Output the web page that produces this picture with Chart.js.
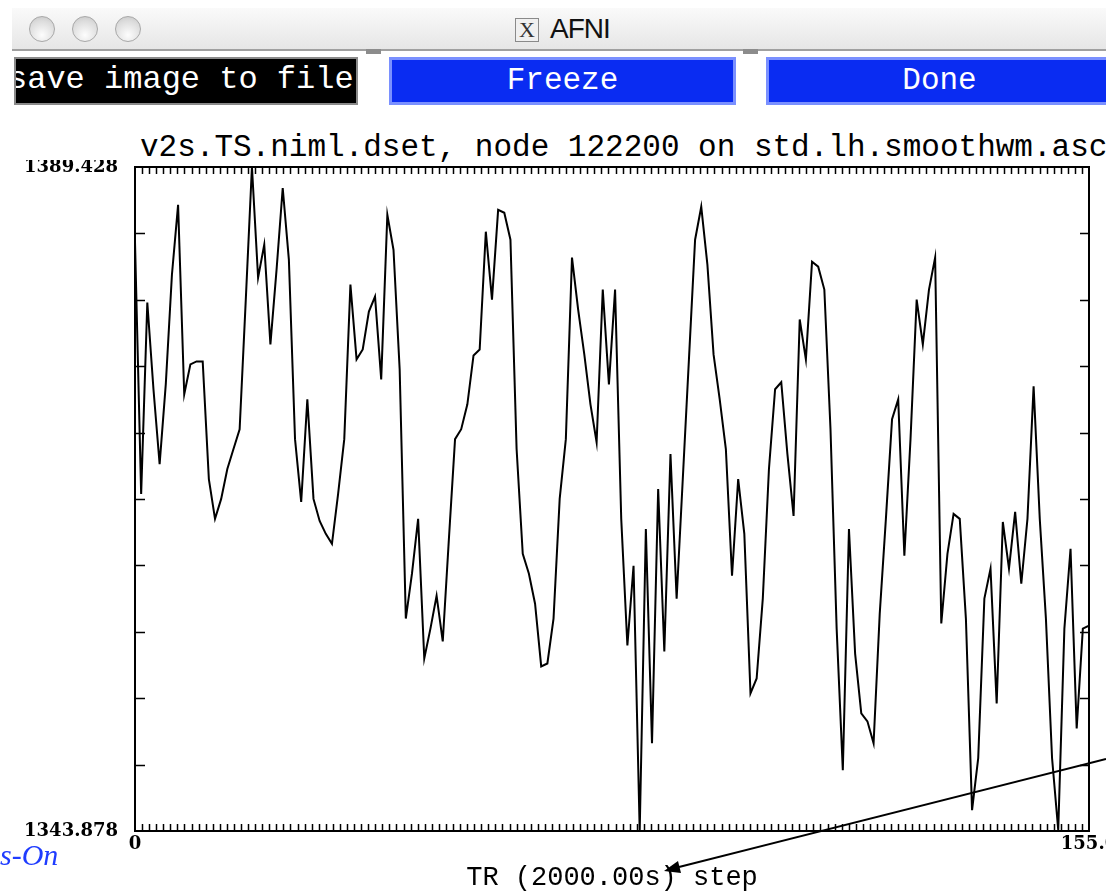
<!DOCTYPE html>
<html>
<head>
<meta charset="utf-8">
<title>AFNI</title>
<script src="https://cdn.jsdelivr.net/npm/chart.js@4.4.1/dist/chart.umd.min.js"></script>
<style>
    html, body { margin: 0; padding: 0; background: #fff; }
    body { position: relative; width: 1106px; height: 896px; overflow: hidden; }

    /* window chrome */
    .titlebar { position: absolute; left: 12px; top: 8px; width: 1094px; height: 41px;
        background: linear-gradient(#fafafa, #e6e6e6); border-bottom: 2px solid #a0a0a0; }
    .light { position: absolute; top: 8px; width: 26px; height: 26px; border-radius: 50%;
        box-sizing: border-box; border: 1px solid #a8a8a8;
        background: radial-gradient(circle at 50% 75%, #fdfdfd, #dcdcdc 65%, #c2c2c2); }
    .xicon { position: absolute; left: 503px; top: 10px; width: 24px; height: 24px;
        box-sizing: border-box; border: 1px solid #8a8a8a; background: #f0f0f0;
        font: 22px "Liberation Serif", serif; line-height: 22px; text-align: center; color: #333; }
    .wintitle { position: absolute; left: 538px; top: 5px; font: 28px "Liberation Sans", sans-serif;
        color: #111; letter-spacing: -1px; }
    .notch { position: absolute; top: 49px; width: 15px; height: 5px; background: #8c8c8c; }

    .btn { position: absolute; top: 57px; height: 48px; box-sizing: border-box; overflow: hidden;
        color: #fff; font: 31px "Liberation Mono", monospace; line-height: 42px; white-space: nowrap; }
    .btn.black { left: 14px; width: 344px; background: #000; border: 2px solid #8a8a8a;
        font-size: 32px; text-indent: -8px; }
    .btn.blue { background: #0a2cf2; border: 3px solid #7a90ff; text-align: center; }

    .plot-title { position: absolute; left: 140px; top: 132px; font: 31px "Liberation Mono", monospace;
        line-height: 32px; color: #000; white-space: nowrap; }
    .chart-box { position: absolute; left: 0; top: 160px; width: 1106px; height: 736px; }
    .side-note { position: absolute; left: 0; top: 838px; font: italic 30px "Liberation Serif", serif;
        color: #1f3cff; }
    svg.arrow { position: absolute; left: 0; top: 0; pointer-events: none; }
</style>
</head>
<body>

<div class="titlebar">
    <div class="light" style="left:17px"></div>
    <div class="light" style="left:60px"></div>
    <div class="light" style="left:103px"></div>
    <div class="xicon">X</div>
    <div class="wintitle">AFNI</div>
</div>
<div class="notch" style="left:366px"></div>
<div class="notch" style="left:743px"></div>

<div class="btn black">save image to file</div>
<div class="btn blue" style="left:389px; width:347px;">Freeze</div>
<div class="btn blue" style="left:766px; width:347px;">Done</div>

<div class="plot-title">v2s.TS.niml.dset, node 122200 on std.lh.smoothwm.asc</div>

<div class="chart-box">
    <canvas id="tsChart" width="1106" height="736"></canvas>
</div>

<div class="side-note">s-On</div>

<svg class="arrow" width="1106" height="896">
    <line x1="1106" y1="759" x2="679" y2="867" stroke="#000" stroke-width="2"/>
    <polygon points="664,871 681,873 678,861" fill="#000"/>
</svg>

<script>
// time series, one value per TR step (0..155)
const signal = [
    1384.30, 1367.00, 1380.13, 1374.18, 1369.05, 1374.52, 1382.04, 1386.83, 1373.84, 1375.89,
    1376.09, 1376.09, 1368.02, 1365.29, 1366.66, 1368.71, 1370.08, 1371.44, 1380.33, 1389.428,
    1381.84, 1384.10, 1377.26, 1382.39, 1387.99, 1383.07, 1370.76, 1366.45, 1373.49, 1366.66,
    1365.15, 1364.26, 1363.58, 1367.00, 1370.76, 1381.36, 1376.23, 1376.91, 1379.51, 1380.54,
    1374.86, 1386.15, 1383.75, 1375.55, 1358.45, 1361.53, 1365.29, 1355.71, 1357.76, 1360.02,
    1356.88, 1363.92, 1370.76, 1371.44, 1373.15, 1376.50, 1376.91, 1384.99, 1380.33, 1386.49,
    1386.29, 1384.44, 1370.08, 1362.89, 1361.53, 1359.47, 1355.17, 1355.37, 1358.45, 1366.66,
    1370.76, 1383.21, 1379.65, 1376.57, 1373.15, 1370.55, 1381.02, 1374.52, 1381.02, 1365.29,
    1356.60, 1362.07, 1343.878, 1364.60, 1349.90, 1367.34, 1356.19, 1369.73, 1359.82, 1368.02,
    1376.23, 1384.44, 1386.70, 1382.73, 1376.57, 1373.49, 1370.08, 1361.39, 1368.02, 1364.26,
    1353.32, 1354.34, 1359.82, 1368.71, 1374.18, 1374.66, 1369.73, 1365.49, 1378.97, 1376.23,
    1382.93, 1382.59, 1381.02, 1371.44, 1357.76, 1348.05, 1364.60, 1356.05, 1351.95, 1351.40,
    1349.90, 1358.79, 1365.29, 1372.13, 1373.49, 1362.76, 1370.76, 1380.33, 1377.26, 1381.02,
    1383.21, 1358.11, 1362.89, 1365.63, 1365.29, 1358.45, 1345.31, 1348.87, 1359.82, 1361.87,
    1352.63, 1365.08, 1361.87, 1365.77, 1360.84, 1365.29, 1374.38, 1365.29, 1358.45, 1348.87,
    1343.95, 1357.76, 1363.24, 1350.92, 1357.76, 1357.97
];

// axis ends and their labels
const xTickValues = [0, 155];
const xTickLabels = ["0", "155.0"];
const yTickValues = [1343.878, 1389.428];
const yTickLabels = ["1343.878", "1389.428"];
const xTitle = "TR (2000.00s) step";

const labelFont = { family: "DejaVu Serif", weight: "bold", size: 18 };

// AFNI style box: frame plus inward ticks
const afniFrame = {
    id: "afniFrame",
    afterDatasetsDraw(chart) {
        const { ctx, chartArea: a, scales: { x, y } } = chart;
        ctx.save();
        ctx.strokeStyle = "#000";
        ctx.lineWidth = 2;
        ctx.strokeRect(a.left, a.top, a.right - a.left, a.bottom - a.top);

        ctx.lineWidth = 1.5;
        ctx.beginPath();
        const xDiv = 135;
        for (let k = 1; k < xDiv; k++) {
            const px = Math.round(x.getPixelForValue(x.min + (x.max - x.min) * k / xDiv)) + 0.5;
            ctx.moveTo(px, a.top);
            ctx.lineTo(px, a.top + 7);
            ctx.moveTo(px, a.bottom);
            ctx.lineTo(px, a.bottom - 7);
        }
        const yDiv = 10;
        for (let k = 1; k < yDiv; k++) {
            const py = Math.round(y.getPixelForValue(y.min + (y.max - y.min) * k / yDiv)) + 0.5;
            ctx.moveTo(a.left, py);
            ctx.lineTo(a.left + 10, py);
            ctx.moveTo(a.right, py);
            ctx.lineTo(a.right - 9, py);
        }
        ctx.stroke();
        ctx.restore();
    }
};

const ctx = document.getElementById("tsChart").getContext("2d");

new Chart(ctx, {
    type: "line",
    data: {
        datasets: [
            {
                label: "node 122200",
                data: signal.map((v, i) => ({ x: i, y: v })),
                borderColor: "#000",
                borderWidth: 2,
                pointRadius: 0,
                tension: 0,
                fill: false,
            },
        ],
    },
    options: {
        responsive: false,
        animation: false,
        devicePixelRatio: 1,
        layout: { padding: { top: 7, right: 17, left: 0, bottom: 0 } },
        plugins: {
            legend: { display: false },
            tooltip: { enabled: false },
        },
        scales: {
            x: {
                type: "linear",
                min: xTickValues[0],
                max: xTickValues[1],
                afterBuildTicks: (s) => { s.ticks = xTickValues.map((v) => ({ value: v })); },
                afterFit: (s) => { s.paddingLeft = 0; s.paddingRight = 0; },
                ticks: {
                    autoSkip: false,
                    maxRotation: 0,
                    padding: 3,
                    color: "#000",
                    font: labelFont,
                    callback: (v, i) => xTickLabels[i],
                },
                grid: { display: false, drawTicks: false },
                border: { display: false },
                title: {
                    display: true,
                    text: xTitle,
                    color: "#000",
                    font: { family: "Liberation Mono", size: 27 },
                    padding: { top: 3, bottom: 2 },
                },
            },
            y: {
                type: "linear",
                min: yTickValues[0],
                max: yTickValues[1],
                afterBuildTicks: (s) => { s.ticks = yTickValues.map((v) => ({ value: v })); },
                afterFit: (s) => { s.width = 135; s.paddingTop = 0; s.paddingBottom = 0; },
                ticks: {
                    autoSkip: false,
                    padding: 17,
                    color: "#000",
                    font: labelFont,
                    callback: (v, i) => yTickLabels[i],
                },
                grid: { display: false, drawTicks: false },
                border: { display: false },
            },
        },
    },
    plugins: [afniFrame],
});
</script>
</body>
</html>
